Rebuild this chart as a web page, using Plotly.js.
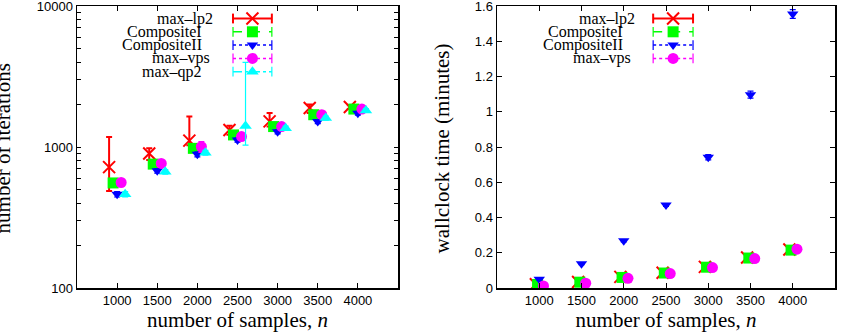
<!DOCTYPE html>
<html><head><meta charset="utf-8">
<script src="https://cdn.plot.ly/plotly-3.0.1.min.js"></script>
<style>html,body{margin:0;padding:0;background:#fff;} #chart{width:844px;height:336px;}</style>
</head><body><div id="chart"></div>
<script>
// ---------- data ----------
const samples = [1000, 1500, 2000, 2500, 3000, 3500, 4000];
const xTickLabels = ['1000', '1500', '2000', '2500', '3000', '3500', '4000'];

// left panel: number of iterations
const iterLp2      = [720, 900, 1110, 1320, 1520, 1890, 1920];
const iterLp2Up    = [458, 80, 534, 95, 220, 110, 60];
const iterLp2Down  = [233, 90, 80, 100, 120, 150, 60];
const iterCompI    = [556, 756, 978, 1218, 1396, 1694, 1858];
const iterCompIErr = [25, 30, 40, 45, 50, 60, 60];
const iterCompII   = [462, 678, 887, 1122, 1285, 1517, 1738];
const iterCompIIErr= [20, 25, 35, 40, 45, 50, 55];
const iterVps      = [560, 765, 1004, 1186, 1396, 1694, 1858];
const iterVpsErr   = [25, 35, 90, 45, 50, 60, 60];
const iterQp2      = [462, 667, 910, 1410, 1359, 1603, 1815];
const iterQp2Up    = [20, 25, 35, 2570, 45, 50, 55];
const iterQp2Down  = [20, 25, 35, 380, 45, 50, 55];

// right panel: wallclock time (minutes)
const timeLp2      = [0.021, 0.034, 0.063, 0.087, 0.120, 0.173, 0.218];
const timeLp2Err   = [0.004, 0.004, 0.005, 0.005, 0.006, 0.007, 0.008];
const timeCompI    = [0.020, 0.033, 0.060, 0.085, 0.118, 0.170, 0.215];
const timeCompIErr = [0.003, 0.003, 0.004, 0.004, 0.005, 0.006, 0.007];
const timeCompII   = [0.050, 0.138, 0.268, 0.471, 0.742, 1.097, 1.555];
const timeCompIIErr= [0.004, 0.005, 0.006, 0.008, 0.015, 0.020, 0.025];
const timeVps      = [0.012, 0.027, 0.055, 0.082, 0.116, 0.167, 0.220];
const timeVpsErr   = [0.003, 0.003, 0.004, 0.004, 0.005, 0.006, 0.007];

const seriesNames = ['max\u2013lp2', 'CompositeI', 'CompositeII', 'max\u2013vps', 'max\u2013qp2'];
const yTicksIterMajor = [100, 1000, 10000];
const yTickTextIterMajor = ['100', '1000', '10000'];
const yTicksTime = [0, 0.2, 0.4, 0.6, 0.8, 1, 1.2, 1.4, 1.6];
const yTickTextTime = ['0', '0.2', '0.4', '0.6', '0.8', '1', '1.2', '1.4', '1.6'];

// ---------- styles ----------
const styles = [
  {color:'#ff0000', symbol:'x-thin', size:12, lw:2, dash:'solid', eth:2},
  {color:'#00ff00', symbol:'square', size:11, lw:0, dash:'dash', eth:1.2},
  {color:'#0000ff', symbol:'triangle-down', size:10, lw:0, dash:'dot', eth:1.2},
  {color:'#ff00ff', symbol:'circle', size:11, lw:0, dash:'dot', eth:1},
  {color:'#00ffff', symbol:'triangle-up', size:11, lw:0, dash:'dashdot', eth:1.2}
];
const leftOffsets = [-100, -50, 0, 50, 100];
const rightOffsets = [-40, -20, 0, 50];

function marker(st) {
  const m = {color: st.color, size: st.size, symbol: st.symbol};
  if (st.symbol === 'x-thin') m.line = {color: st.color, width: st.lw};
  return m;
}
function series(xa, ya, off, y, up, down, st) {
  return {
    type:'scatter', mode:'markers', xaxis:xa, yaxis:ya, showlegend:false,
    x: samples.map(v => v + off), y: y,
    marker: marker(st),
    error_y: {type:'data', symmetric:false, array:up, arrayminus:down,
              color:st.color, thickness:st.eth, width:3},
    hoverinfo:'x+y'
  };
}

const traces = [];
const leftData = [
  [iterLp2, iterLp2Up, iterLp2Down],
  [iterCompI, iterCompIErr, iterCompIErr],
  [iterCompII, iterCompIIErr, iterCompIIErr],
  [iterVps, iterVpsErr, iterVpsErr],
  [iterQp2, iterQp2Up, iterQp2Down]
];
leftData.forEach((d, i) => traces.push(series('x', 'y', leftOffsets[i], d[0], d[1], d[2], styles[i])));
const rightData = [
  [timeLp2, timeLp2Err, timeLp2Err],
  [timeCompI, timeCompIErr, timeCompIErr],
  [timeCompII, timeCompIIErr, timeCompIIErr],
  [timeVps, timeVpsErr, timeVpsErr]
];
rightData.forEach((d, i) => traces.push(series('x2', 'y2', rightOffsets[i], d[0], d[1], d[2], styles[i])));

// ---------- manual legends (text left of sample) ----------
const annotations = [];
const serif = 'Liberation Serif, Times New Roman, serif';
function legend(xa, ya, count, textX, lineX0, lineX1, rows) {
  for (let i = 0; i < count; i++) {
    const st = styles[i];
    const ry = rows[i];
    traces.push({type:'scatter', mode:'lines+markers', xaxis:xa, yaxis:ya, showlegend:false, hoverinfo:'skip',
      x:[lineX0, lineX1], y:[ry, ry],
      line:{color:st.color, width: i === 0 ? 2 : 1.5, dash: st.dash},
      marker:{symbol:'line-ns', size:7, line:{color:st.color, width: i === 0 ? 2 : 1.2}}});
    traces.push({type:'scatter', mode:'markers', xaxis:xa, yaxis:ya, showlegend:false, hoverinfo:'skip',
      x:[(lineX0 + lineX1) / 2], y:[ry], marker: marker(st)});
    annotations.push({xref:xa, yref:ya, x:textX[i], y:ry, xanchor:'right', yanchor:'middle',
      text: seriesNames[i], showarrow:false, borderpad:0,
      font:{family:serif, size:16, color:'#000'}});
  }
}
const rowsPx = [18.5, 31.8, 45.1, 58.4, 71.7];
const rowsFrac = rowsPx.map(p => (288 - p) / 282);
// text right edges (px) of each legend entry, as placed in the original
const leftTextPx = [214, 203, 203, 211, 203];
const rightTextPx = [636, 624, 624, 632];
legend('x3', 'y3', 5, leftTextPx.map(p => (p - 77) / 321), 0.486, 0.607, rowsFrac);
legend('x4', 'y4', 4, rightTextPx.map(p => (p - 497) / 338), 0.462, 0.580, rowsFrac);

// y titles
annotations.push({xref:'paper', yref:'paper', x:3/844, y:0.495, xanchor:'center', yanchor:'middle',
  text:'number of iterations', textangle:-90, showarrow:false, font:{family:serif, size:21, color:'#000'}});
annotations.push({xref:'paper', yref:'paper', x:442/844, y:0.495, xanchor:'center', yanchor:'middle',
  text:'wallclock time (minutes)', textangle:-90, showarrow:false, font:{family:serif, size:21, color:'#000'}});

// ---------- axes ----------
const sans = 'Liberation Sans, Arial, sans-serif';
const leftDom = [77/844, 398/844];
const rightDom = [497/844, 835/844];
function xAxis(dom, anchor) {
  return {domain:dom, anchor:anchor, range:[500, 4500], tickmode:'array', tickvals:samples, ticktext:xTickLabels,
    ticks:'inside', ticklen:5, tickwidth:1, tickcolor:'#000', mirror:'ticks', showline:true, linecolor:'#000', linewidth:1.5,
    showgrid:false, zeroline:false, tickfont:{family:sans, size:13, color:'#000'}, ticklabeloverflow:'allow',
    title:{text:'number of samples, <i>n</i>', font:{family:serif, size:21, color:'#000'}, standoff:4}};
}
// log axis: decade ticks labelled, 2..9 multiples as unlabelled minor ticks
const yTickVals = [], yTickText = [];
yTicksIterMajor.forEach((b, j) => {
  yTickVals.push(b); yTickText.push(yTickTextIterMajor[j]);
  if (j < yTicksIterMajor.length - 1) for (let k = 2; k <= 9; k++) { yTickVals.push(b * k); yTickText.push(''); }
});

const layout = {
  width:844, height:336, margin:{l:0, r:0, t:6, b:48}, paper_bgcolor:'#fff', plot_bgcolor:'rgba(0,0,0,0)',
  showlegend:false,
  xaxis: xAxis(leftDom, 'y'),
  yaxis: {domain:[0,1], anchor:'x', type:'log', range:[2,4], tickmode:'array',
    tickvals:yTickVals, ticktext:yTickText, ticklabeloverflow:'allow',
    ticks:'inside', ticklen:4, tickcolor:'#000', mirror:'ticks', showline:true, linecolor:'#000', linewidth:1.5,
    showgrid:false, zeroline:false, tickfont:{family:sans, size:13, color:'#000'}},
  xaxis2: xAxis(rightDom, 'y2'),
  yaxis2: {domain:[0,1], anchor:'x2', range:[0,1.6], tickmode:'array',
    tickvals:yTicksTime, ticktext:yTickTextTime, ticklabeloverflow:'allow',
    ticks:'inside', ticklen:5, tickcolor:'#000', mirror:'ticks', showline:true, linecolor:'#000', linewidth:1.5,
    showgrid:false, zeroline:false, tickfont:{family:sans, size:13, color:'#000'}},
  xaxis3: {domain:leftDom, anchor:'y3', range:[0,1], visible:false, fixedrange:true},
  yaxis3: {domain:[0,1], anchor:'x3', range:[0,1], visible:false, fixedrange:true},
  xaxis4: {domain:rightDom, anchor:'y4', range:[0,1], visible:false, fixedrange:true},
  yaxis4: {domain:[0,1], anchor:'x4', range:[0,1], visible:false, fixedrange:true},
  annotations: annotations
};
Plotly.newPlot('chart', traces, layout, {staticPlot:true, displayModeBar:false});
</script></body></html>
